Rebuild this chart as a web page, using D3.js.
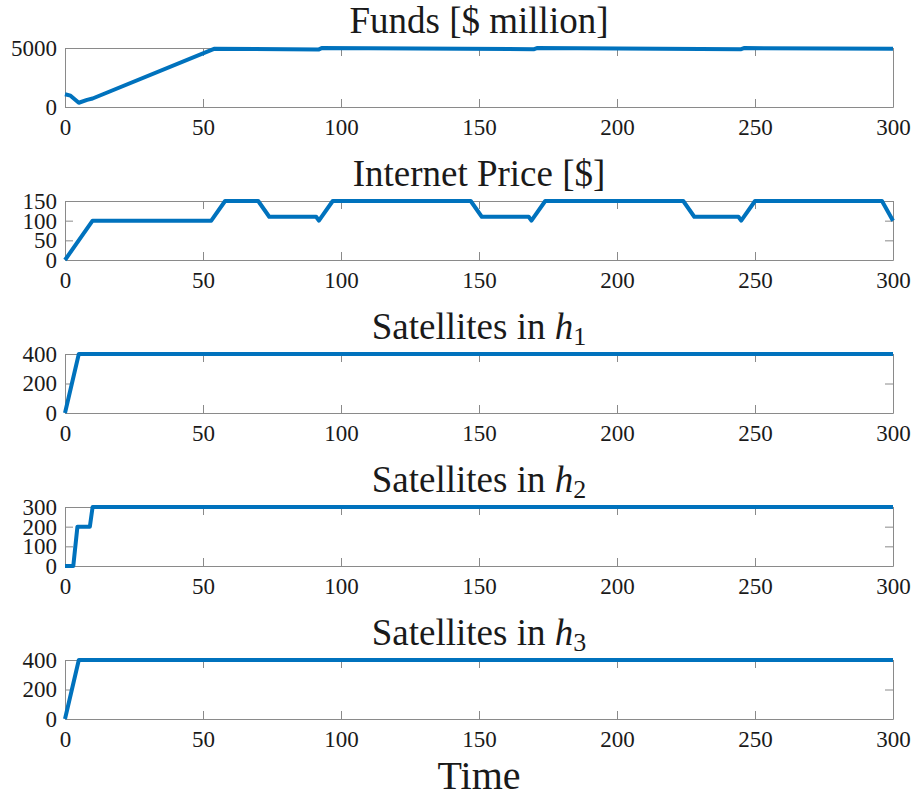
<!DOCTYPE html>
<html>
<head>
<meta charset="utf-8">
<script src="https://cdn.jsdelivr.net/npm/d3@7"></script>
<style>
  html, body { margin: 0; padding: 0; background: #fff; }
  svg text { font-family: "Liberation Serif", "DejaVu Serif", serif; fill: #1a1a1a; }
</style>
</head>
<body>
<svg id="chart" width="917" height="798"></svg>
<script>
// Simulation traces: [time, value]
const funds = [[0,1080],[2,960],[5,360],[8,600],[10,720],[54,4930],[92,4880],[93,4990],
  [170,4900],[171,4990],[245,4900],[246,4990],[300,4930]];
const internetPrice = [[0,0],[10,100],[53,100],[58,150],[70,150],[74,110],[91,110],[92,100],
  [97,150],[147,150],[151,110],[168,110],[169,100],[174,150],[224,150],[228,110],[244,110],
  [245,100],[250,150],[296,150],[300,100]];
const satH1 = [[0,0],[5,400],[300,400]];
const satH2 = [[0,0],[3,0],[4.5,200],[9,200],[10,300],[300,300]];
const satH3 = [[0,0],[5,400],[300,400]];

const xTicks = [0,50,100,150,200,250,300];
const fundsTicks = [0,5000];
const priceTicks = [0,50,100,150];
const h1Ticks = [0,200,400];
const h2Ticks = [0,100,200,300];
const h3Ticks = [0,200,400];

const panels = [
  {title: "Funds [$ million]", data: funds, domain: [0,5000], ticks: fundsTicks},
  {title: "Internet Price [$]", data: internetPrice, domain: [0,150], ticks: priceTicks},
  {title: "Satellites in ", sub: "1", data: satH1, domain: [0,400], ticks: h1Ticks},
  {title: "Satellites in ", sub: "2", data: satH2, domain: [0,300], ticks: h2Ticks},
  {title: "Satellites in ", sub: "3", data: satH3, domain: [0,400], ticks: h3Ticks}
];

const svg = d3.select("#chart");
const left = 65, right = 893, panelH = 59, firstTop = 48, step = 153;
const axisColor = "#8a8a8a", lineColor = "#0072BD", tickLen = 8;
const fmt = d3.format("d");

const x = d3.scaleLinear().domain([0,300]).range([left, right]);

panels.forEach((p, i) => {
  const top = firstTop + i * step, bottom = top + panelH;
  const y = d3.scaleLinear().domain(p.domain).range([bottom, top]);
  const g = svg.append("g");

  // bottom axis with labels, plus mirrored inward ticks on top and right
  const bx = g.append("g").attr("transform", `translate(0,${bottom})`)
    .call(d3.axisBottom(x).tickValues(xTicks).tickFormat(fmt).tickSizeInner(-tickLen).tickSizeOuter(0).tickPadding(11));
  const tx = g.append("g").attr("transform", `translate(0,${top})`)
    .call(d3.axisTop(x).tickValues(xTicks).tickSizeInner(-tickLen).tickSizeOuter(0).tickFormat(""));
  const ly = g.append("g").attr("transform", `translate(${left},0)`)
    .call(d3.axisLeft(y).tickValues(p.ticks).tickFormat(fmt).tickSizeInner(-tickLen).tickSizeOuter(0).tickPadding(8));
  const ry = g.append("g").attr("transform", `translate(${right},0)`)
    .call(d3.axisRight(y).tickValues(p.ticks).tickSizeInner(-tickLen).tickSizeOuter(0).tickFormat(""));

  [bx, tx, ly, ry].forEach(a => {
    a.attr("font-family", null).attr("font-size", null);
    a.select(".domain").attr("stroke", axisColor).attr("stroke-width", 1);
    a.selectAll(".tick line").attr("stroke", axisColor).attr("stroke-width", 1);
    a.selectAll(".tick text").attr("font-size", 23).attr("fill", "#1a1a1a");
  });
  bx.selectAll(".tick text").attr("dy", "0.72em");

  // title
  const t = g.append("text").attr("x", (left + right) / 2).attr("y", top - 15)
    .attr("text-anchor", "middle").attr("font-size", 37);
  t.append("tspan").text(p.title);
  if (p.sub) {
    t.append("tspan").attr("font-style", "italic").text("h");
    t.append("tspan").attr("font-size", 26).attr("dy", 6).text(p.sub);
  }

  // data trace
  g.append("path").datum(p.data)
    .attr("fill", "none").attr("stroke", lineColor).attr("stroke-width", 4)
    .attr("stroke-linejoin", "round")
    .attr("d", d3.line().x(d => x(d[0])).y(d => y(d[1])));
});

svg.append("text").attr("x", (left + right) / 2).attr("y", 789)
  .attr("text-anchor", "middle").attr("font-size", 40).text("Time");
</script>
</body>
</html>
